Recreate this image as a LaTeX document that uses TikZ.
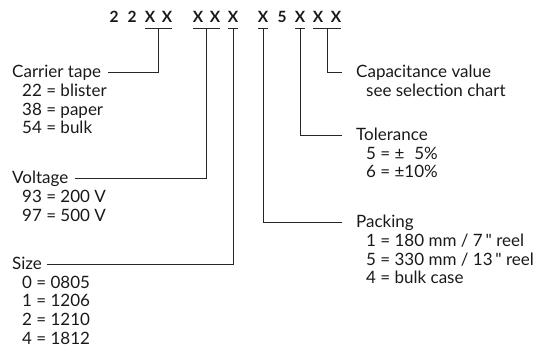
\documentclass[tikz,border=0pt]{standalone}
\usepackage{fontspec}
\setmainfont{Lato}
\usetikzlibrary{calc}
\begin{document}
\begin{tikzpicture}[x=1pt,y=-1pt,
  lbl/.style={anchor=base west, inner sep=0pt, font=\fontsize{17}{19}\selectfont, text=black!90},
  code/.style={anchor=base, inner sep=0pt, font=\fontsize{15.5}{18}\selectfont\bfseries, text=black!90},
  ln/.style={line width=0.8pt, black!85}]
\useasboundingbox (0,0) rectangle (544,355);
% code characters
\node[code] (c1) at (114,23) {2};
\node[code] (c2) at (132,23) {2};
\node[code] (c3) at (150,23) {X};
\node[code] (c4) at (167,23) {X};
\node[code] (c5) at (198,23) {X};
\node[code] (c6) at (215,23) {X};
\node[code] (c7) at (233,23) {X};
\node[code] (c8) at (263,23) {X};
\node[code] (c9) at (282,23) {5};
\node[code] (c10) at (300,23) {X};
\node[code] (c11) at (318,23) {X};
\node[code] (c12) at (336,23) {X};
% underlines
\draw[ln] ($(c3.base)+(-5,5.3)$) -- ($(c4.base)+(5,5.3)$);
\draw[ln] ($(c5.base)+(-5,5.3)$) -- ($(c6.base)+(5,5.3)$);
\draw[ln] ($(c7.base)+(-5,5.3)$) -- ($(c7.base)+(5,5.3)$);
\draw[ln] ($(c8.base)+(-5,5.3)$) -- ($(c8.base)+(5,5.3)$);
\draw[ln] ($(c10.base)+(-5,5.3)$) -- ($(c10.base)+(5,5.3)$);
\draw[ln] ($(c11.base)+(-5,5.3)$) -- ($(c12.base)+(5,5.3)$);
\coordinate (u1) at ($(c3.base)!0.5!(c4.base)+(0,5.3)$);
\coordinate (u2) at ($(c5.base)!0.5!(c6.base)+(0,5.3)$);
\coordinate (u3) at ($(c7.base)+(0,5.3)$);
\coordinate (u4) at ($(c8.base)+(0,5.3)$);
\coordinate (u5) at ($(c10.base)+(0,5.3)$);
\coordinate (u6) at ($(c11.base)!0.5!(c12.base)+(0,5.3)$);
% left column
\node[lbl] (ct) at (12,78) {Carrier tape};
\node[lbl] at (22,97) {22 = blister};
\node[lbl] at (22,116) {38 = paper};
\node[lbl] at (22,134) {54 = bulk};
\node[lbl] (vo) at (12,184) {Voltage};
\node[lbl] at (22,203) {93 = 200 V};
\node[lbl] at (22,222) {97 = 500 V};
\node[lbl] (sz) at (12,270) {Size};
\node[lbl] at (22,289) {0 = 0805};
\node[lbl] at (22,307) {1 = 1206};
\node[lbl] at (22,326) {2 = 1210};
\node[lbl] at (22,345) {4 = 1812};
% right column
\node[lbl] (cap) at (356,78) {Capacitance value};
\node[lbl] at (366,97) {see selection chart};
\node[lbl] (tol) at (356,141) {Tolerance};
\node[lbl] at (366,160) {5 = ±\phantom{1}5\%};
\node[lbl] at (366,178) {6 = ±10\%};
\node[lbl] (pk) at (356,228) {Packing};
\node[lbl] at (366,247) {1 = 180 mm / 7\,\textquotedbl{} reel};
\node[lbl] at (366,266) {5 = 330 mm / 13\,\textquotedbl{} reel};
\node[lbl] at (366,284) {4 = bulk case};
% connectors
\draw[ln] ($(ct.base east)+(7,-6)$) -| (u1);
\draw[ln] ($(vo.base east)+(6,-6)$) -| (u2);
\draw[ln] ($(sz.base east)+(5,-6)$) -| (u3);
\draw[ln] (u4) |- ($(pk.base west)+(-14,-6)$);
\draw[ln] (u5) |- ($(tol.base west)+(-14,-6)$);
\draw[ln] (u6) |- ($(cap.base west)+(-14,-6)$);
\end{tikzpicture}
\end{document}
